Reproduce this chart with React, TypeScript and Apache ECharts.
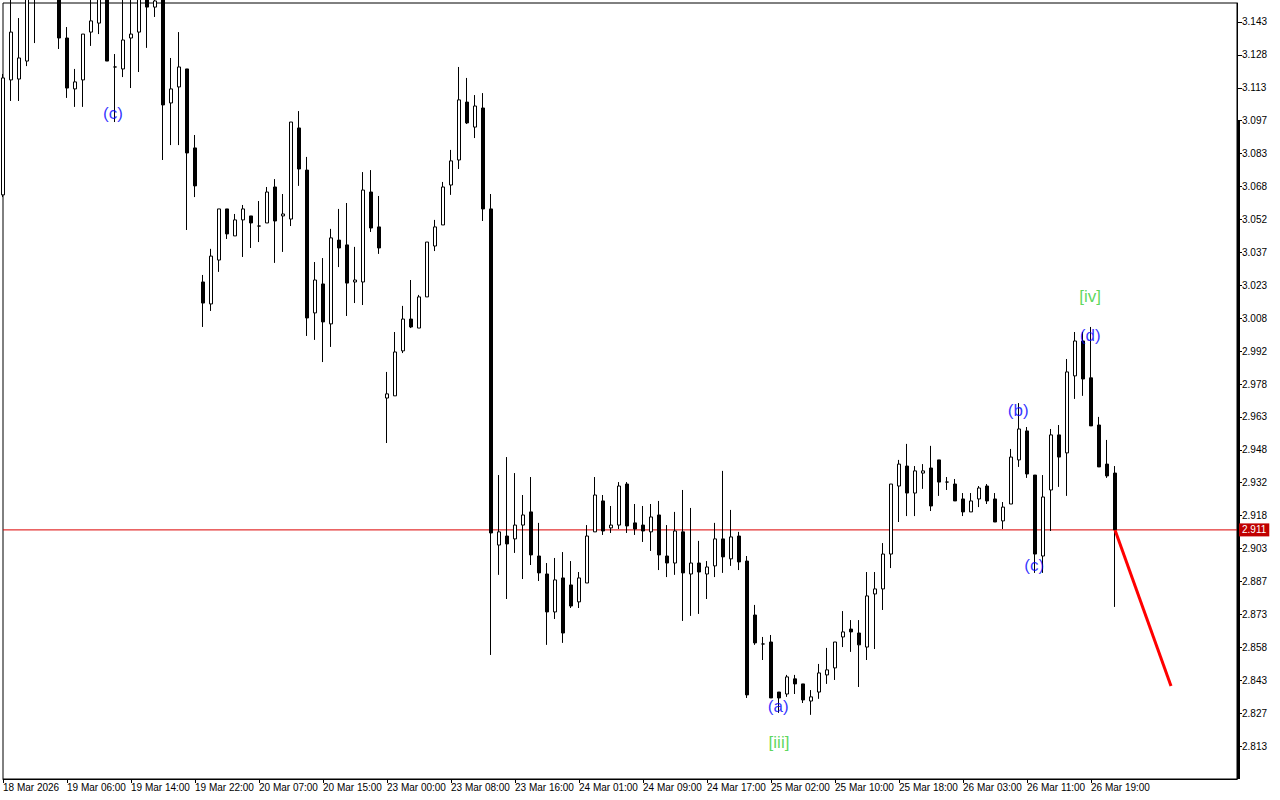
import React, { useEffect, useRef } from "react";
import * as echarts from "echarts";

// ---- Data (hourly candles) ----
const candleOpen = [
  3.0642, 3.1166, 3.1170, 3.1252, 3.1599, 3.1621, 3.1576, 3.1576, 3.1357, 3.1125,
  3.1166, 3.1384, 3.1425, 3.1553, 3.1225, 3.1216, 3.1357, 3.1384, 3.1539, 3.1498,
  3.1539, 3.1061, 3.1134, 3.1216, 3.0856, 3.0245, 3.0145, 3.0345, 3.0578, 3.0455,
  3.0528, 3.0546, 3.0500, 3.0514, 3.0678, 3.0546, 3.0532, 3.0947, 3.0755, 3.0104,
  3.0236, 3.0054, 3.0436, 3.0414, 3.0245, 3.0245, 3.0655, 3.0496, 2.9716, 2.9726,
  2.9931, 3.0076, 3.0035, 3.0177, 3.0409, 3.0505, 3.0687, 3.0801, 3.1065, 3.0951,
  3.1038, 3.0578, 2.9046, 2.9087, 2.9074, 2.9137, 2.9197, 2.8996, 2.8914, 2.8741,
  2.8896, 2.8864, 2.8787, 2.8873, 2.9106, 2.9247, 2.9124, 2.9137, 2.9324, 2.9147,
  2.9137, 2.9106, 2.9183, 2.8996, 2.8964, 2.9106, 2.8914, 2.8964, 2.8914, 2.8951,
  2.9074, 2.8983, 2.9087, 2.8973, 2.8727, 2.8595, 2.8604, 2.8376, 2.8367, 2.8436,
  2.8413, 2.8335, 2.8376, 2.8454, 2.8486, 2.8627, 2.8663, 2.8645, 2.8581, 2.8823,
  2.8846, 2.9005, 2.9315, 2.9406, 2.9283, 2.9374, 2.9397, 2.9434, 2.9333, 2.9324,
  2.9256, 2.9197, 2.9256, 2.9315, 2.9256, 2.9156, 2.9233, 2.9434, 2.9566, 2.9365,
  2.8996, 2.9297, 2.9548, 2.9466, 2.9817, 2.9976, 2.9808, 2.9593, 2.9415, 2.9374,
];
const candleClose = [
  3.1175, 3.1384, 3.1266, 3.1553, 3.1544, 3.1576, 3.1644, 3.1357, 3.1129, 3.1157,
  3.1375, 3.1435, 3.1553, 3.1252, 3.1225, 3.1348, 3.1375, 3.1553, 3.1498, 3.1526,
  3.1052, 3.1125, 3.1225, 3.0833, 3.0683, 3.0149, 3.0363, 3.0578, 3.0464, 3.0528,
  3.0578, 3.0514, 3.0500, 3.0655, 3.0523, 3.0555, 3.0974, 3.0760, 3.0081, 3.0254,
  3.0063, 3.0446, 3.0400, 3.0240, 3.0254, 3.0664, 3.0491, 3.0400, 2.9735, 2.9926,
  3.0076, 3.0040, 3.0177, 3.0427, 3.0496, 3.0678, 3.0797, 3.1075, 3.0970, 3.1047,
  3.0578, 2.9101, 2.9106, 2.9051, 2.9137, 2.9183, 2.9001, 2.8919, 2.8741, 2.8887,
  2.8645, 2.8768, 2.8896, 2.9087, 2.9274, 2.9110, 2.9137, 2.9315, 2.9133, 2.9119,
  2.9110, 2.9174, 2.9001, 2.8964, 2.9110, 2.8919, 2.8964, 2.8923, 2.8946, 2.9074,
  2.8992, 2.9083, 2.8969, 2.8363, 2.8600, 2.8595, 2.8349, 2.8349, 2.8445, 2.8413,
  2.8340, 2.8354, 2.8463, 2.8477, 2.8604, 2.8650, 2.8650, 2.8591, 2.8814, 2.8846,
  2.9005, 2.9324, 2.9415, 2.9283, 2.9384, 2.9384, 2.9224, 2.9333, 2.9333, 2.9247,
  2.9197, 2.9247, 2.9306, 2.9247, 2.9151, 2.9219, 2.9447, 2.9575, 2.9370, 2.9005,
  2.9265, 2.9548, 2.9447, 2.9835, 2.9976, 2.9803, 2.9589, 2.9402, 2.9361, 2.9115,
];
const candleLow = [
  3.0632, 3.1070, 3.1070, 3.1229, 3.1334, 3.1553, 3.1553, 3.1307, 3.1084, 3.1043,
  3.1043, 3.1321, 3.1375, 3.1252, 3.0974, 3.1179, 3.1129, 3.1202, 3.1312, 3.1453,
  3.0801, 3.0869, 3.0869, 3.0482, 3.0632, 3.0040, 3.0113, 3.0291, 3.0441, 3.0455,
  3.0359, 3.0400, 3.0427, 3.0514, 3.0332, 3.0382, 3.0500, 3.0683, 2.9999, 2.9981,
  2.9880, 2.9949, 3.0313, 3.0090, 3.0149, 3.0140, 3.0473, 3.0373, 2.9511, 2.9726,
  2.9921, 3.0035, 3.0035, 3.0177, 3.0386, 3.0505, 3.0642, 3.0760, 3.0965, 3.0901,
  3.0523, 2.8545, 2.8910, 2.8800, 2.9010, 2.8891, 2.8955, 2.8882, 2.8591, 2.8709,
  2.8600, 2.8759, 2.8759, 2.8873, 2.9106, 2.9092, 2.9101, 2.9119, 2.9101, 2.9092,
  2.9060, 2.9019, 2.8932, 2.8900, 2.8910, 2.8700, 2.8723, 2.8732, 2.8800, 2.8900,
  2.8919, 2.8951, 2.8932, 2.8349, 2.8591, 2.8522, 2.8349, 2.8281, 2.8354, 2.8367,
  2.8326, 2.8272, 2.8345, 2.8413, 2.8431, 2.8581, 2.8559, 2.8399, 2.8522, 2.8572,
  2.8750, 2.8941, 2.9151, 2.9178, 2.9178, 2.9302, 2.9201, 2.9270, 2.9297, 2.9247,
  2.9178, 2.9197, 2.9219, 2.9233, 2.9151, 2.9119, 2.9233, 2.9402, 2.9352, 2.8919,
  2.8919, 2.9110, 2.9311, 2.9270, 2.9712, 2.9726, 2.9589, 2.9402, 2.9352, 2.8764,
];
const candleHigh = [
  3.1193, 3.1576, 3.1448, 3.1576, 3.1621, 3.1667, 3.1690, 3.1599, 3.1407, 3.1216,
  3.1375, 3.1553, 3.1576, 3.1576, 3.1284, 3.1553, 3.1553, 3.1576, 3.1567, 3.1544,
  3.1553, 3.1266, 3.1384, 3.1216, 3.0915, 3.0277, 3.0396, 3.0578, 3.0578, 3.0555,
  3.0596, 3.0546, 3.0614, 3.0678, 3.0714, 3.0646, 3.0974, 3.1024, 3.0815, 3.0336,
  3.0354, 3.0487, 3.0578, 3.0605, 3.0405, 3.0746, 3.0755, 3.0637, 2.9835, 3.0017,
  3.0136, 3.0254, 3.0186, 3.0427, 3.0528, 3.0701, 3.0847, 3.1225, 3.1175, 3.1097,
  3.1106, 3.0646, 2.9365, 2.9447, 2.9374, 2.9274, 2.9356, 2.9147, 2.8964, 2.8987,
  2.9014, 2.8973, 2.8923, 2.9137, 2.9356, 2.9274, 2.9224, 2.9333, 2.9333, 2.9233,
  2.9224, 2.9233, 2.9247, 2.9137, 2.9197, 2.9297, 2.9215, 2.9065, 2.8973, 2.9147,
  2.9384, 2.9206, 2.9106, 2.8996, 2.8773, 2.8627, 2.8636, 2.8376, 2.8454, 2.8454,
  2.8413, 2.8385, 2.8504, 2.8577, 2.8604, 2.8745, 2.8704, 2.8704, 2.8923, 2.8923,
  2.9055, 2.9324, 2.9434, 2.9507, 2.9406, 2.9415, 2.9498, 2.9434, 2.9356, 2.9347,
  2.9283, 2.9283, 2.9315, 2.9324, 2.9283, 2.9242, 2.9484, 2.9693, 2.9584, 2.9365,
  2.9365, 2.9575, 2.9593, 2.9894, 3.0017, 3.0017, 3.0040, 2.9630, 2.9525, 2.9406,
];

const xTickIdx = [0, 8, 16, 24, 32, 40, 48, 56, 64, 72, 80, 88, 96, 104, 112, 120, 128, 136];
const xTickLabels = [
  "18 Mar 2026", "19 Mar 06:00", "19 Mar 14:00", "19 Mar 22:00", "20 Mar 07:00",
  "20 Mar 15:00", "23 Mar 00:00", "23 Mar 08:00", "23 Mar 16:00", "24 Mar 01:00",
  "24 Mar 09:00", "24 Mar 17:00", "25 Mar 02:00", "25 Mar 10:00", "25 Mar 18:00",
  "26 Mar 03:00", "26 Mar 11:00", "26 Mar 19:00",
];

const yTickValues = [
  2.813, 2.828, 2.843, 2.858, 2.873, 2.888, 2.903, 2.918, 2.933, 2.948, 2.963, 2.978,
  2.993, 3.008, 3.023, 3.038, 3.053, 3.068, 3.083, 3.098, 3.113, 3.128, 3.143,
];
const yTickLabels = [
  "2.813", "2.827", "2.843", "2.858", "2.873", "2.887", "2.903", "2.918", "2.932", "2.948", "2.963", "2.978",
  "2.992", "3.008", "3.023", "3.037", "3.052", "3.068", "3.083", "3.097", "3.113", "3.128", "3.143",
];

const currentPrice = 2.9115;
const currentPriceLabel = "2.911";
const forecastIdx = [139, 146];
const forecastPrice = [2.9115, 2.8404];

const waveText = ["(c)", "(a)", "[iii]", "(b)", "(c)", "[iv]", "(d)"];
const waveIdx = [13.75, 96.9, 97, 126.9, 128.9, 135.9, 135.9];
const wavePrice = [3.1015, 2.8312, 2.8144, 2.9657, 2.8951, 3.0177, 3.0003];
const waveColor = ["#0000FF", "#0000FF", "#32CD32", "#0000FF", "#0000FF", "#32CD32", "#0000FF"];

const Y_MIN = 2.79796;
const Y_MAX = 3.15166;
const X_MAX = 154.25;

export default function App() {
  const ref = useRef<HTMLDivElement>(null);
  useEffect(() => {
    const chart = echarts.init(ref.current!, null, { renderer: "svg" });
    const font = "'Liberation Sans', Arial, sans-serif";
    const candles = candleOpen.map((o, i) => [i, o, candleClose[i], candleLow[i], candleHigh[i]]);
    chart.setOption({
      animation: false,
      backgroundColor: "#ffffff",
      grid: {
        left: 3,
        top: 3,
        width: 1234,
        height: 776,
        show: true,
        borderColor: "#000",
        borderWidth: 1,
        backgroundColor: "#fff",
      },
      xAxis: {
        type: "value",
        min: 0,
        max: X_MAX,
        position: "bottom",
        axisLine: { show: true, onZero: false, lineStyle: { color: "#000", width: 1 } },
        axisTick: { show: true, customValues: xTickIdx, length: 4, lineStyle: { color: "#000" } },
        axisLabel: {
          show: true,
          customValues: xTickIdx,
          formatter: (v: number) => {
            const k = xTickIdx.indexOf(Math.round(v));
            return k >= 0 ? xTickLabels[k] : "";
          },
          align: "left",
          margin: 3,
          color: "#000",
          fontSize: 10,
          fontFamily: font,
          padding: [0, 0, 0, 0],
        },
        splitLine: { show: false },
      },
      yAxis: {
        type: "value",
        position: "right",
        min: Y_MIN,
        max: Y_MAX,
        axisLine: { show: true, onZero: false, lineStyle: { color: "#000", width: 1 } },
        axisTick: { show: true, customValues: yTickValues, length: 5, lineStyle: { color: "#000" } },
        axisLabel: {
          show: true,
          customValues: yTickValues,
          formatter: (v: number) => {
            let best = 0;
            for (let j = 0; j < yTickValues.length; j++) {
              if (Math.abs(yTickValues[j] - v) < Math.abs(yTickValues[best] - v)) best = j;
            }
            return yTickLabels[best];
          },
          margin: 5,
          color: "#000",
          fontSize: 10,
          fontFamily: font,
        },
        splitLine: { show: false },
      },
      graphic: [
        {
          type: "rect",
          z: 1,
          shape: { x: 1237, y: 120, width: 3, height: 659 },
          style: { fill: "#000" },
          silent: true,
        },
      ],
      series: [
        {
          type: "line",
          data: [[0, currentPrice], [X_MAX, currentPrice]],
          symbol: "none",
          silent: true,
          clip: false,
          lineStyle: { color: "#DC0000", width: 1 },
          endLabel: {
            show: true,
            formatter: () => currentPriceLabel,
            distance: 2,
            backgroundColor: "#C00000",
            color: "#ffffff",
            fontSize: 10,
            fontFamily: font,
            padding: [2, 3, 1, 3],
          },
          z: 2,
        },
        {
          type: "candlestick",
          data: candles,
          encode: { x: 0, y: [1, 2, 3, 4] },
          barWidth: 4,
          clip: true,
          silent: true,
          itemStyle: {
            color: "#ffffff",
            color0: "#000000",
            borderColor: "#000000",
            borderColor0: "#000000",
            borderColorDoji: "#000000",
            borderWidth: 1,
          },
          z: 3,
        },
        {
          type: "line",
          data: forecastIdx.map((x, i) => [x, forecastPrice[i]]),
          symbol: "none",
          silent: true,
          lineStyle: { color: "#FF0000", width: 3 },
          z: 4,
        },
        {
          type: "scatter",
          silent: true,
          symbolSize: 1,
          itemStyle: { color: "rgba(0,0,0,0)" },
          z: 5,
          data: waveText.map((t, i) => ({
            value: [waveIdx[i], wavePrice[i]],
            label: {
              show: true,
              position: "inside",
              formatter: t,
              color: waveColor[i],
              fontSize: 17,
              fontFamily: font,
            },
          })),
        },
      ],
    });
    return () => chart.dispose();
  }, []);
  return (
    <div
      ref={ref}
      style={{ position: "fixed", left: 0, top: 0, width: 1280, height: 800, background: "#fff" }}
    />
  );
}
